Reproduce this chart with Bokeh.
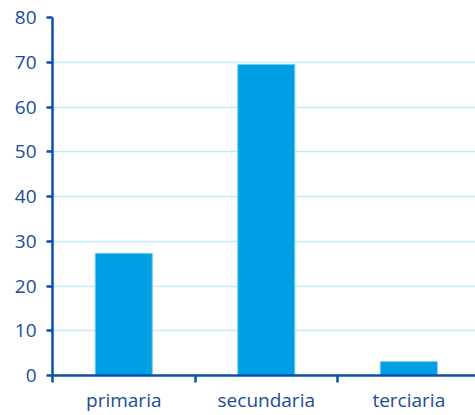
from bokeh.plotting import figure
from bokeh.models import FixedTicker, Range1d
from bokeh.embed import file_html
from bokeh.resources import INLINE

categories = ["primaria", "secundaria", "terciaria"]
values = [27.3, 69.5, 3.1]
y_ticks = [0, 10, 20, 30, 40, 50, 60, 70, 80]

AXIS = "#0d4ea6"
LABEL = "#1a4c9a"
BAR = "#009fe3"
GRID = "#c5eaf8"
FONT = "Open Sans"

xs = [i + 0.5 for i in range(len(categories))]

p = figure(width=475, height=415, output_backend="svg", toolbar_location=None,
           x_range=Range1d(0, 2.968), y_range=Range1d(0, 80),
           min_border_left=52, min_border_right=0, min_border_top=17, min_border_bottom=39)
p.outline_line_color = None
p.background_fill_color = "white"
p.border_fill_color = "white"

p.vbar(x=xs, top=values, width=0.4, fill_color=BAR, line_color="#6fcdf0", line_width=1)

# y axis
ya = p.yaxis[0]
ya.ticker = FixedTicker(ticks=y_ticks)
ya.axis_line_color = AXIS
ya.axis_line_width = 2.5
ya.major_tick_line_color = AXIS
ya.major_tick_line_width = 2.5
ya.major_tick_out = 6
ya.major_tick_in = 0
ya.minor_tick_line_color = None
ya.major_label_text_color = LABEL
ya.major_label_text_font = FONT
ya.major_label_text_font_size = "19px"
ya.major_label_standoff = 10

# x axis
xa = p.xaxis[0]
xa.ticker = FixedTicker(ticks=xs, minor_ticks=list(range(len(categories) + 1)))
xa.major_label_overrides = {x: c for x, c in zip(xs, categories)}
xa.axis_line_color = AXIS
xa.axis_line_width = 2.5
xa.major_tick_line_color = None
xa.major_tick_out = 0
xa.major_tick_in = 0
xa.minor_tick_line_color = AXIS
xa.minor_tick_line_width = 2.5
xa.minor_tick_out = 7
xa.minor_tick_in = 0
xa.major_label_text_color = LABEL
xa.major_label_text_font = FONT
xa.major_label_text_font_size = "19px"
xa.major_label_standoff = 4

p.xgrid.grid_line_color = None
p.ygrid.ticker = FixedTicker(ticks=y_ticks)
p.ygrid.grid_line_color = GRID
p.ygrid.grid_line_width = 1.5

open("out.html", "w").write(file_html(p, INLINE))
